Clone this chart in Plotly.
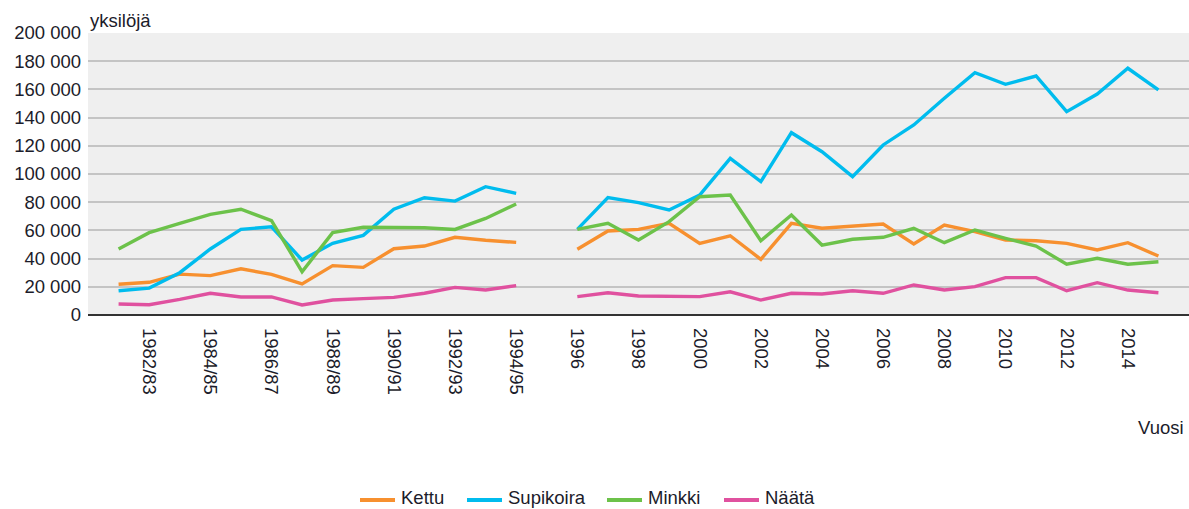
import plotly.graph_objects as go

# Hunting seasons / years; one empty slot separates the split-year seasons from the calendar years
seasons = ["1981/82", "1982/83", "1983/84", "1984/85", "1985/86", "1986/87", "1987/88",
           "1988/89", "1989/90", "1990/91", "1991/92", "1992/93", "1993/94", "1994/95",
           "",
           "1996", "1997", "1998", "1999", "2000", "2001", "2002", "2003", "2004", "2005",
           "2006", "2007", "2008", "2009", "2010", "2011", "2012", "2013", "2014", "2015"]

kettu = [21800, 23200, 29000, 27900, 32800, 28800, 22000, 35000, 33800, 47000, 48900, 55100, 53000, 51500,
         None,
         46600, 59600, 60700, 65000, 50800, 56200, 39500, 65000, 61500, 63100, 64500, 50400, 63800, 59100,
         53200, 52700, 50800, 46100, 51300, 41800]

supikoira = [17200, 19100, 30000, 46800, 60700, 62600, 39000, 50800, 56500, 75000, 83200, 80800, 91000, 86300,
             None,
             60700, 83200, 79700, 74500, 85100, 111100, 94600, 129300, 115800, 98100, 120600, 134800, 153700,
             171800, 163600, 169500, 144200, 156700, 175000, 159600]

minkki = [46800, 58400, 65000, 71400, 75000, 66900, 30700, 58400, 62200, 62200, 61900, 60700, 68500, 78700,
          None,
          60700, 65000, 53200, 66200, 83900, 85100, 52700, 70900, 49600, 53700, 55100, 61500, 51300, 60300,
          54400, 48900, 36000, 40200, 36000, 37800]

naata = [7800, 7300, 11100, 15400, 12800, 12800, 7100, 10600, 11600, 12500, 15400, 19600, 17700, 20800,
         None,
         13000, 15800, 13500, 13500, 13000, 16500, 10600, 15400, 14900, 17200, 15400, 21300, 17700, 20100,
         26500, 26500, 17200, 22900, 17700, 15800]

y_ticks = [0, 20000, 40000, 60000, 80000, 100000, 120000, 140000, 160000, 180000, 200000]

series = [
    ("Kettu", kettu, "#F7902F"),
    ("Supikoira", supikoira, "#00BCEE"),
    ("Minkki", minkki, "#6CC24A"),
    ("Näätä", naata, "#E0519F"),
]

pos = list(range(len(seasons)))
label_pos = [i for i in pos if i % 2 == 1]
label_txt = [seasons[i] for i in label_pos]

FONT = "Arial, Liberation Sans, sans-serif"
TXT = "#1c1c2a"
FS = 18.5

W, H = 1189, 509
ML, MR, MT, MB = 88, 0, 33, 194
PW, PH = W - ML - MR, H - MT - MB


def px_x(p):
    return (p - ML) / PW


def px_y(p):
    return (H - MB - p) / PH


fig = go.Figure()
for name, vals, col in series:
    fig.add_trace(go.Scatter(
        x=pos, y=vals, name=name, mode="lines",
        line=dict(color=col, width=3.4),
        connectgaps=False, showlegend=False,
    ))

# legend row below the axis: a short line sample followed by the series name
legend_left = [360, 467, 607, 724]
legend_line_y = 500
legend_text_y = 497
shapes = []
annotations = []
for (name, _, col), left in zip(series, legend_left):
    shapes.append(dict(type="line", xref="paper", yref="paper",
                       x0=px_x(left), x1=px_x(left + 35),
                       y0=px_y(legend_line_y), y1=px_y(legend_line_y),
                       line=dict(color=col, width=4)))
    annotations.append(dict(text=name, xref="paper", yref="paper",
                            x=px_x(left + 40), y=px_y(legend_text_y),
                            xanchor="left", yanchor="middle", showarrow=False,
                            borderpad=0,
                            font=dict(size=FS, color=TXT)))

annotations += [
    dict(text="yksilöjä", xref="paper", yref="paper", x=0, y=1.0,
         xanchor="left", yanchor="bottom", showarrow=False,
         font=dict(size=FS, color=TXT)),
    dict(text="Vuosi", xref="paper", yref="paper", x=0.997, y=-0.40,
         xanchor="right", yanchor="middle", showarrow=False,
         font=dict(size=FS, color=TXT)),
]

fig.update_layout(
    width=W, height=H,
    margin=dict(l=ML, r=MR, t=MT, b=MB, autoexpand=False),
    paper_bgcolor="white",
    plot_bgcolor="#efefef",
    font=dict(family=FONT, size=FS, color=TXT),
    showlegend=False,
    xaxis=dict(
        range=[-1, len(seasons)],
        tickmode="array", tickvals=label_pos, ticktext=label_txt,
        tickangle=90, ticks="", showgrid=False, zeroline=False,
        showline=False, fixedrange=True, ticklabelstandoff=12,
        tickfont=dict(size=FS, color=TXT),
    ),
    yaxis=dict(
        range=[0, 200000],
        tickmode="array", tickvals=y_ticks,
        ticktext=[f"{v:,}".replace(",", " ") for v in y_ticks],
        ticks="", showgrid=True, gridcolor="#c4c4c4", gridwidth=1.5,
        zeroline=True, zerolinecolor="#333333", zerolinewidth=2,
        showline=False, ticklabelstandoff=6,
        tickfont=dict(size=FS, color=TXT),
    ),
    shapes=shapes,
    annotations=annotations,
)

fig.write_html("out.html")
